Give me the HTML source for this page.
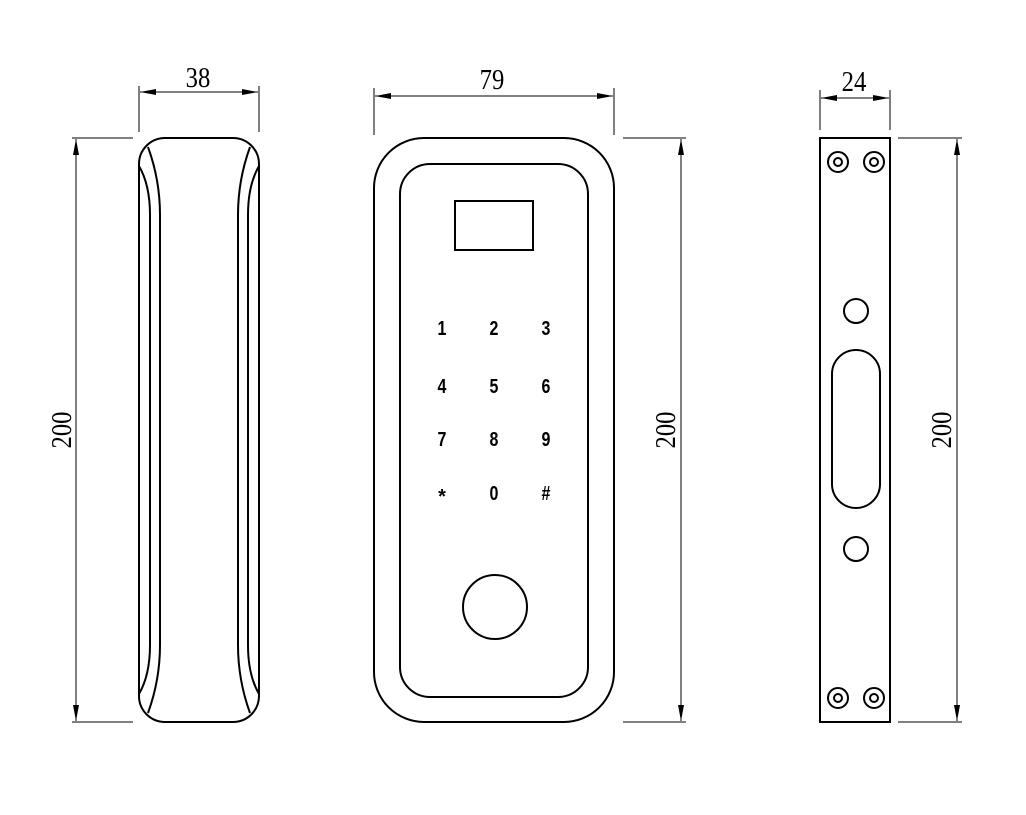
<!DOCTYPE html>
<html><head><meta charset="utf-8"><style>
html,body{margin:0;padding:0;background:#fff;}
svg{display:block}
.d{font-family:"Liberation Serif",serif;font-size:29px;fill:#000}
.k{font-family:"Liberation Sans",sans-serif;font-size:20px;font-weight:bold;fill:#000}
</style></head><body>
<svg width="1026" height="815" viewBox="0 0 1026 815" xmlns="http://www.w3.org/2000/svg">
<defs><marker id="a" viewBox="0 0 16 6" refX="16" refY="3" markerWidth="16" markerHeight="6" orient="auto-start-reverse" markerUnits="userSpaceOnUse"><path d="M0,0 L16,3 L0,6 Z" fill="#000"/></marker></defs>
<g fill="none" stroke="#000" stroke-width="1">
<line x1="139" y1="86" x2="139" y2="132"/><line x1="259" y1="86" x2="259" y2="132"/>
<line x1="140" y1="92" x2="258" y2="92" marker-start="url(#a)" marker-end="url(#a)"/>
<line x1="72" y1="138" x2="133" y2="138"/><line x1="72" y1="722" x2="133" y2="722"/>
<line x1="76" y1="139" x2="76" y2="721" marker-start="url(#a)" marker-end="url(#a)"/>
<line x1="374" y1="88" x2="374" y2="135"/><line x1="614" y1="88" x2="614" y2="135"/>
<line x1="375" y1="96" x2="613" y2="96" marker-start="url(#a)" marker-end="url(#a)"/>
<line x1="623" y1="138" x2="686" y2="138"/><line x1="623" y1="722" x2="686" y2="722"/>
<line x1="681" y1="139" x2="681" y2="721" marker-start="url(#a)" marker-end="url(#a)"/>
<line x1="820" y1="90" x2="820" y2="130"/><line x1="890" y1="90" x2="890" y2="130"/>
<line x1="821" y1="98" x2="889" y2="98" marker-start="url(#a)" marker-end="url(#a)"/>
<line x1="898" y1="138" x2="962" y2="138"/><line x1="898" y1="722" x2="962" y2="722"/>
<line x1="957" y1="139" x2="957" y2="721" marker-start="url(#a)" marker-end="url(#a)"/>
</g>
<g fill="none" stroke="#000" stroke-width="2">
<rect x="139" y="138" width="120" height="584" rx="26" ry="26"/>
<path d="M139,166 Q150,185 150,215 L150,645 Q150,675 139,694"/>
<path d="M148,147 Q160,180 160,215 L160,645 Q160,680 148,713"/>
<path d="M259,166 Q248,185 248,215 L248,645 Q248,675 259,694"/>
<path d="M250,147 Q238,180 238,215 L238,645 Q238,680 250,713"/>
<rect x="374" y="138" width="240" height="584" rx="50" ry="50"/>
<rect x="400" y="164" width="188" height="533" rx="30" ry="30"/>
<rect x="455" y="201" width="78" height="49"/>
<circle cx="495" cy="607" r="32"/>
<rect x="820" y="138" width="70" height="584"/>
<rect x="832" y="350" width="48" height="158" rx="24" ry="24"/>
<circle cx="856" cy="311" r="12"/><circle cx="856" cy="549" r="12"/>
<circle cx="838" cy="162" r="10"/><circle cx="838" cy="162" r="4"/>
<circle cx="874" cy="162" r="10"/><circle cx="874" cy="162" r="4"/>
<circle cx="838" cy="698" r="10"/><circle cx="838" cy="698" r="4"/>
<circle cx="874" cy="698" r="10"/><circle cx="874" cy="698" r="4"/>
</g>
<text class="d" text-anchor="middle" transform="translate(198 87) scale(0.85 1)">38</text>
<text class="d" text-anchor="middle" transform="translate(492 89) scale(0.85 1)">79</text>
<text class="d" text-anchor="middle" transform="translate(854 91) scale(0.85 1)">24</text>
<text class="d" text-anchor="middle" transform="translate(71 430) rotate(-90) scale(0.85 1)">200</text>
<text class="d" text-anchor="middle" transform="translate(675 430) rotate(-90) scale(0.85 1)">200</text>
<text class="d" text-anchor="middle" transform="translate(951 430) rotate(-90) scale(0.85 1)">200</text>
<g class="k" text-anchor="middle">
<text transform="translate(442 335) scale(0.8 1)">1</text><text transform="translate(494 335) scale(0.8 1)">2</text><text transform="translate(546 335) scale(0.8 1)">3</text>
<text transform="translate(442 393) scale(0.8 1)">4</text><text transform="translate(494 393) scale(0.8 1)">5</text><text transform="translate(546 393) scale(0.8 1)">6</text>
<text transform="translate(442 446) scale(0.8 1)">7</text><text transform="translate(494 446) scale(0.8 1)">8</text><text transform="translate(546 446) scale(0.8 1)">9</text>
<text transform="translate(442 503) scale(1 1)">*</text><text transform="translate(494 500) scale(0.8 1)">0</text><text transform="translate(546 500) scale(0.8 1)">#</text>
</g>
</svg>
</body></html>
